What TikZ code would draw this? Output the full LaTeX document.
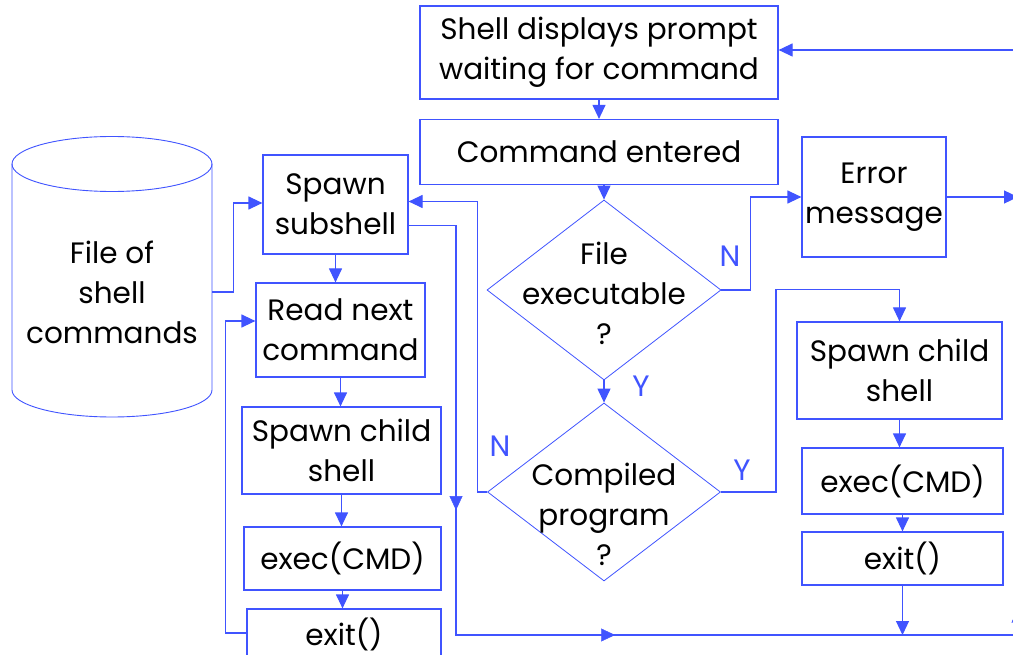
\documentclass[tikz,border=0pt]{standalone}
\usepackage{fontspec}
\setmainfont{Poppins}
\usetikzlibrary{arrows.meta,shapes.geometric,decorations.markings,calc}
\definecolor{lineblue}{RGB}{64,84,255}
\begin{document}
\begin{tikzpicture}[x=1pt,y=-1pt,
  every node/.style={font=\fontsize{29.5}{40}\selectfont},
  box/.style={draw=lineblue, line width=1.2pt, align=center, inner sep=0pt},
  dia/.style={draw=lineblue, line width=0.8pt, shape=diamond, inner sep=0pt},
  cyl/.style={draw=lineblue, line width=0.9pt},
  conn/.style={draw=lineblue, line width=1.2pt},
  arr/.style={conn, -{Triangle[length=14pt,width=13pt]}},
  yn/.style={text=lineblue, inner sep=0pt},
  midarr/.style={color=lineblue, postaction={decorate}, decoration={markings, mark=at position #1 with {\arrow{Triangle[length=14pt,width=13pt]}}}}
]
\useasboundingbox (0,0) rectangle (1013,655);
\fill[white] (0,0) rectangle (1013,655);
\clip (0,0) rectangle (1013,655);

% centre column
\node[box, minimum width=358pt, minimum height=93pt] (prompt) at (599,52.5) {Shell displays prompt\\waiting for command};
\node[box, minimum width=358pt, minimum height=65pt] (cmd) at (599,152) {Command entered};
\node[dia, minimum width=234pt, minimum height=180pt] (d1) at (604,290)
  {\smash{\makebox[0pt]{\raisebox{-13pt}{\begin{tabular}{@{}c@{}}File\\executable\\?\end{tabular}}}}};
\node[dia, minimum width=233pt, minimum height=178pt] (d2) at (604,492)
  {\smash{\makebox[0pt]{\raisebox{-32pt}{\begin{tabular}{@{}c@{}}Compiled\\program\\?\end{tabular}}}}};

% right column
\node[box, minimum width=144pt, minimum height=120pt] (err) at (874,197) {Error\\message};
\node[box, minimum width=205pt, minimum height=97pt] (spawnR) at (899.5,370.5) {Spawn child\\shell};
\node[box, minimum width=201pt, minimum height=66pt] (execR) at (902.5,481) {exec(CMD)};
\node[box, minimum width=201pt, minimum height=53pt] (exitR) at (902.5,558.5) {exit()};

% left column
\node[minimum width=200pt, align=center, inner sep=0pt] (file) at (112,292) {File of\\shell\\commands};
\node[box, minimum width=145pt, minimum height=99pt] (sub) at (335.5,204.5) {Spawn\\subshell};
\node[box, minimum width=169pt, minimum height=94pt] (read) at (340.5,330) {Read next\\command};
\node[box, minimum width=199pt, minimum height=87pt] (spawnL) at (341.5,450.5) {Spawn child\\shell};
\node[box, minimum width=197pt, minimum height=63pt] (execL) at (342.5,558.5) {exec(CMD)};
\node[box, minimum width=194pt, minimum height=50pt] (exitL) at (344,634) {exit()};

% cylinder
\draw[cyl] (12,164) -- (12,390) arc[start angle=180, end angle=0, x radius=100, y radius=27] -- (212,164);
\draw[cyl] (112,164) ellipse [x radius=100, y radius=27.5];

% labels
\node[yn] (lY1) at (641,386) {Y};
\node[yn] (lN1) at (730,256) {N};
\node[yn] (lN2) at (500,446) {N};
\node[yn] (lY2) at (742,470) {Y};

% helper coordinates
\coordinate (s1) at ($(sub.east)+(0,21)$);
\coordinate (bl) at (456,635);
\coordinate (tl) at (s1 -| bl);
\coordinate (br) at (1018,635);
\coordinate (tr) at (1018,50);

% connectors
\draw[arr] (prompt.south) -- (cmd.north);
\draw[arr] (d1.north |- cmd.south) -- (d1.north);
\draw[arr] (d1.south) -- (d2.north);
\draw[arr] (d1.east) -- ++(29,0) |- (err.west);
\draw[arr] (err.east) -- (err.east -| br);
\draw[arr] (d2.east) -- ++(55,0) |- ($(spawnR.north)+(0,-32)$) -- (spawnR.north);
\draw[arr] (spawnR.south) -- (spawnR.south |- execR.north);
\draw[arr] (execR.south) -- (execR.south |- exitR.north);
\draw[arr] (exitR.south) -- (exitR.south |- bl);
\draw[arr] (d2.west) -- ++(-10,0) |- ($(sub.east)+(0,-3)$);
\draw[conn, line join=miter] (s1) -- (tl) -- (bl) -- (br) -- (tr);
\path[midarr=0.695] (tl) -- (bl);
\path[midarr=0.283] (bl) -- (br);
\path[midarr=0.045] (br) -- (tr);
\draw[arr] (tr) -- (prompt.east |- tr);
\draw[arr] (file.east) -- ++(21,0) |- ($(sub.west)+(0,-1.5)$);
\draw[arr] (sub.south) -- (sub.south |- read.north);
\draw[arr] (read.south) -- (read.south |- spawnL.north);
\draw[arr] (spawnL.south) -- (spawnL.south |- execL.north);
\draw[arr] (execL.south) -- (execL.south |- exitL.north);
\draw[arr] (exitL.west |- 0,633) -- ++(-21,0) |- ($(read.west)+(0,-9)$);
\end{tikzpicture}
\end{document}
